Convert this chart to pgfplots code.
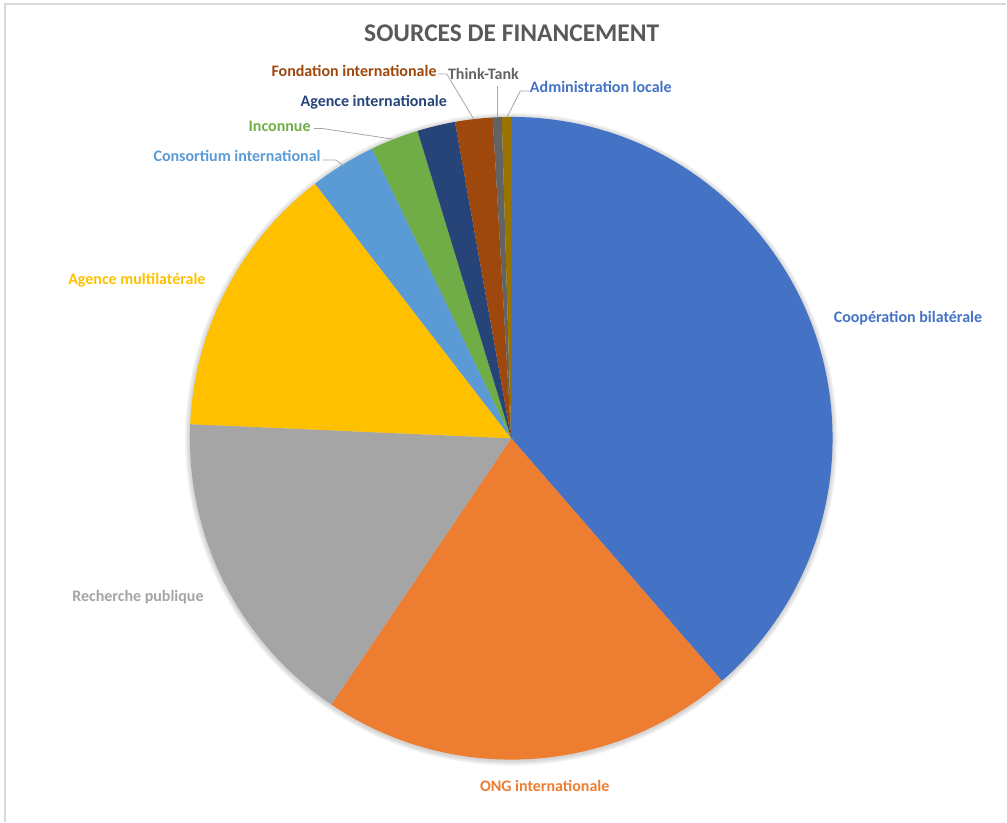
\documentclass[border=0pt]{standalone}
\usepackage{pgfplots}
\pgfplotsset{compat=1.18}
\usepackage{pgfplotstable}
\usepackage{fontspec}
\setmainfont{Carlito}
\definecolor{cBlue}{HTML}{4472C4}
\definecolor{cOrange}{HTML}{ED7D31}
\definecolor{cGray}{HTML}{A5A5A5}
\definecolor{cYellow}{HTML}{FFC000}
\definecolor{cLBlue}{HTML}{5B9BD5}
\definecolor{cGreen}{HTML}{70AD47}
\definecolor{cDBlue}{HTML}{264478}
\definecolor{cBrown}{HTML}{9E480E}
\definecolor{cDGray}{HTML}{636363}
\definecolor{cGold}{HTML}{997300}
\definecolor{cTitle}{HTML}{595959}
\definecolor{cLeader}{HTML}{A6A6A6}
\definecolor{cBorder}{HTML}{D9D9D9}
% share (percent) of each funding source, clockwise from 12 o'clock
\pgfplotstableread{
value col
38.62 cBlue
20.84 cOrange
16.24 cGray
13.85 cYellow
3.32 cLBlue
2.42 cGreen
1.91 cDBlue
1.88 cBrown
0.45 cDGray
0.46 cGold
}\piedata
\def\R{241.125pt}
\tikzset{lbl/.style={font=\fontsize{12}{14}\selectfont\bfseries, inner sep=0pt}}
\begin{document}
\begin{tikzpicture}
\begin{axis}[
  scale only axis, width=755.25pt, height=616.5pt,
  xmin=0, xmax=1007, ymin=0, ymax=822,
  hide axis, clip=false,
]
\addplot[draw=none] coordinates {(0,0) (1007,822)};
\addplot[color=cBorder, line width=0.8pt] coordinates {(5,0) (5,818) (1007,818)};
% soft shadow
\pgfplotsinvokeforeach{5,4,3,2,1}{
  \fill[black, opacity=0.035] (axis cs:511.5,382.5) circle[radius=241.125pt+#1*0.75pt];
}
\pgfplotstablegetrowsof{\piedata}
\pgfmathtruncatemacro\N{\pgfplotsretval-1}
\def\cum{0}
\pgfplotsforeachungrouped \i in {0,...,\N}{%
  \pgfplotstablegetelem{\i}{value}\of\piedata \let\v\pgfplotsretval
  \pgfplotstablegetelem{\i}{col}\of\piedata \let\c\pgfplotsretval
  \pgfmathsetmacro\a{90-3.6*\cum}%
  \pgfmathsetmacro\b{90-3.6*(\cum+\v)}%
  \edef\temp{\noexpand\fill[\c] (axis cs:511.5,383.5) -- ++(\a:\R) arc[start angle=\a, end angle=\b, radius=\R] -- cycle;}%
  \temp
  \pgfmathsetmacro\cum{\cum+\v}%
}
% leader lines
\addplot[color=cLeader, line width=0.6pt] coordinates {(323,662) (336,662) (344,656)};
\addplot[color=cLeader, line width=0.6pt] coordinates {(314,693.5) (322,693.5) (395,682.5)};
\addplot[color=cLeader, line width=0.6pt] coordinates {(438,748) (447,748) (474,702.7)};
\addplot[color=cLeader, line width=0.6pt] coordinates {(498,736) (498,705)};
\addplot[color=cLeader, line width=0.6pt] coordinates {(529.5,731) (520.5,731) (507.3,704.7)};
% labels
\node[font=\fontsize{19.1}{22}\selectfont\bfseries, text=cTitle, inner sep=0pt] at (axis cs:512,789) {SOURCES DE FINANCEMENT};
\node[lbl, anchor=west, text=cBlue] at (axis cs:834,503.5) {Coopération bilatérale};
\node[lbl, text=cOrange] at (axis cs:545,36) {ONG internationale};
\node[lbl, text=cGray] at (axis cs:138,225) {Recherche publique};
\node[lbl, text=cYellow] at (axis cs:137,542) {Agence multilatérale};
\node[lbl, anchor=east, text=cLBlue] at (axis cs:321,666) {Consortium international};
\node[lbl, anchor=east, text=cGreen] at (axis cs:311,695.5) {Inconnue};
\node[lbl, text=cDBlue] at (axis cs:374,719.5) {Agence internationale};
\node[lbl, anchor=east, text=cBrown] at (axis cs:437,751) {Fondation internationale};
\node[lbl, anchor=west, text=cDGray] at (axis cs:448,748) {Think-Tank};
\node[lbl, anchor=west, text=cBlue] at (axis cs:530,735) {Administration locale};
\end{axis}
\end{tikzpicture}
\end{document}
